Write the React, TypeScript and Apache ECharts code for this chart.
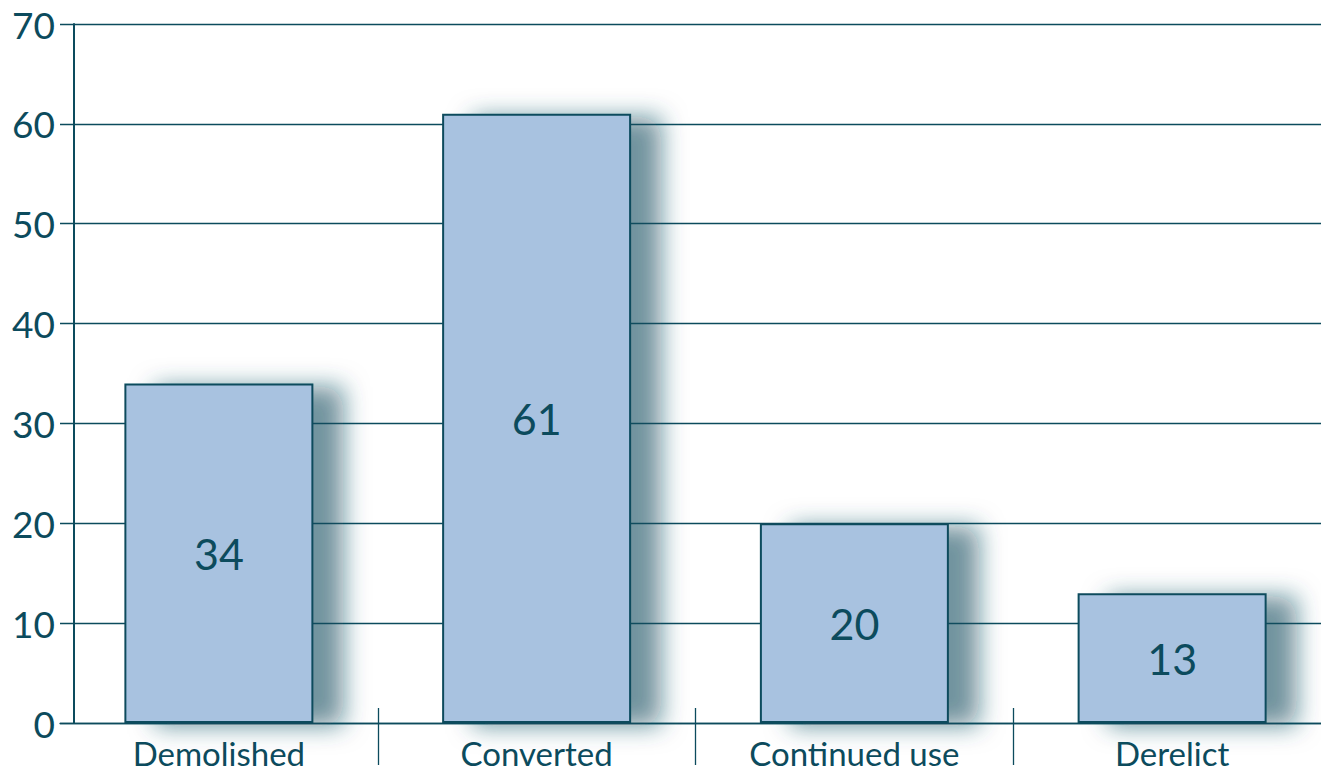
import React, { useEffect, useRef } from "react";
import * as echarts from "echarts";

const categories = ["Demolished", "Converted", "Continued use", "Derelict"];
const values = [34, 61, 20, 13];
const yTicks = { min: 0, max: 70, interval: 10 };

const TEAL = "#0c4b5d";

export default function App() {
  const ref = useRef<HTMLDivElement>(null);
  useEffect(() => {
    if (!ref.current) return;
    const chart = echarts.init(ref.current, null, { renderer: "svg" });
    chart.setOption({
      animation: false,
      backgroundColor: "#ffffff",
      grid: {
        left: 60,
        right: -10,
        top: 24,
        bottom: 51,
        containLabel: false,
        outerBoundsMode: "none",
      },
      xAxis: [
        {
          type: "category",
          data: categories,
          axisLine: { show: true, lineStyle: { color: TEAL, width: 1.3 } },
          axisTick: {
            show: true,
            length: 42,
            inside: false,
            lineStyle: { color: TEAL, width: 1.3 },
            interval: (i: number) => i > 0,
          },
          axisLabel: {
            color: TEAL,
            fontFamily: "Lato",
            fontSize: 33,
            margin: 13,
            interval: 0,
          },
        },
        {
          type: "category",
          data: categories,
          position: "bottom",
          axisLine: { show: false },
          axisTick: {
            show: true,
            length: 15,
            inside: true,
            lineStyle: { color: TEAL, width: 1.3 },
            interval: (i: number) => i > 0,
          },
          axisLabel: { show: false },
        },
      ],
      yAxis: {
        type: "value",
        min: yTicks.min,
        max: yTicks.max,
        interval: yTicks.interval,
        offset: -14,
        axisLine: { show: true, lineStyle: { color: TEAL, width: 2 } },
        axisTick: { show: false },
        splitLine: { show: true, lineStyle: { color: TEAL, width: 1.3 } },
        axisLabel: {
          color: TEAL,
          fontFamily: "Lato",
          fontSize: 37,
          margin: 19,
        },
      },
      series: [
        {
          type: "bar",
          data: values,
          barWidth: 189,
          itemStyle: {
            color: "#a8c2e0",
            borderColor: TEAL,
            borderWidth: 2,
            shadowColor: "rgba(12, 75, 93, 0.6)",
            shadowBlur: 24,
            shadowOffsetX: 30,
            shadowOffsetY: 3,
          },
          label: {
            show: true,
            position: "inside",
            color: TEAL,
            fontFamily: "Lato",
            fontSize: 43,
          },
        },
      ],
    });
    return () => chart.dispose();
  }, []);
  return (
    <div
      ref={ref}
      style={{ position: "fixed", left: 0, top: 0, width: 1321, height: 774 }}
    />
  );
}
